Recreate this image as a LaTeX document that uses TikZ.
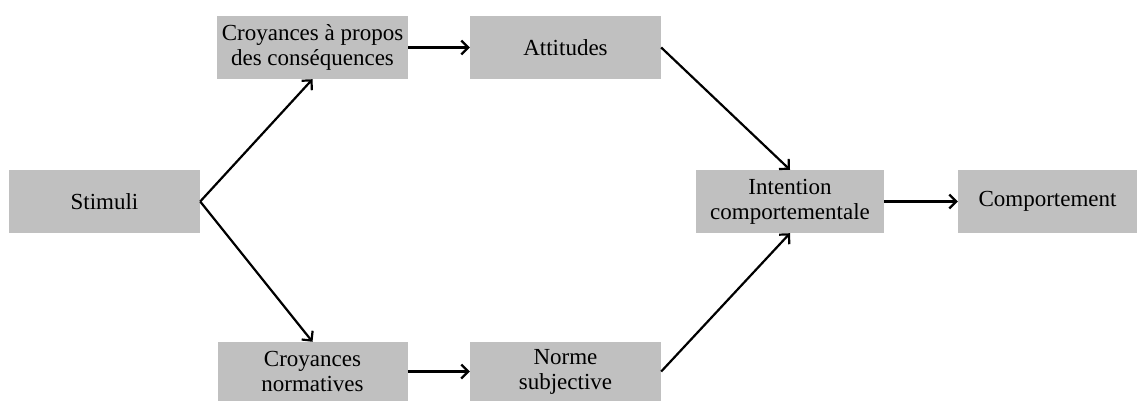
\documentclass[tikz,border=0pt]{standalone}
\usepackage{fontspec}
\setmainfont{Liberation Serif}
\usetikzlibrary{arrows.meta}
\definecolor{boxgray}{RGB}{192,192,192}
\begin{document}
\begin{tikzpicture}[x=1pt,y=-1pt,
  box/.style={fill=boxgray,draw=none,inner sep=0pt,align=center,
    font=\fontsize{23}{25}\selectfont,minimum height=63pt},
  conn/.style={line width=2.2pt,-{Straight Barb[length=7pt,width=14pt,line width=2.2pt]}}]
\useasboundingbox (0,0) rectangle (1139,401);
\node[box,minimum width=191pt] (stim) at (104.5,201.5) {Stimuli};
\node[box,minimum width=191pt] (cbel) at (312.5,47.5) {Croyances à propos\\des conséquences};
\node[box,minimum width=191pt] (att) at (565.5,47.5) {Attitudes};
\node[box,minimum width=188pt] (int) at (790,201.5) {Intention\\comportementale};
\node[box,minimum width=179pt] (comp) at (1047.5,201.5) {Comportement};
\node[box,minimum width=190pt,minimum height=59pt] (cnorm) at (312.5,371.5) {Croyances\\normatives};
\node[box,minimum width=191pt,minimum height=59pt] (norme) at (565.5,371.5) {Norme\\subjective};
\draw[conn] (stim.east) -- (cbel.south);
\draw[conn] (stim.east) -- (cnorm.north);
\draw[conn] (cbel.east) -- (att.west);
\draw[conn] (cnorm.east) -- (norme.west);
\draw[conn] (att.east) -- (int.north);
\draw[conn] (norme.east) -- (int.south);
\draw[conn] (int.east) -- (comp.west);
\end{tikzpicture}
\end{document}
